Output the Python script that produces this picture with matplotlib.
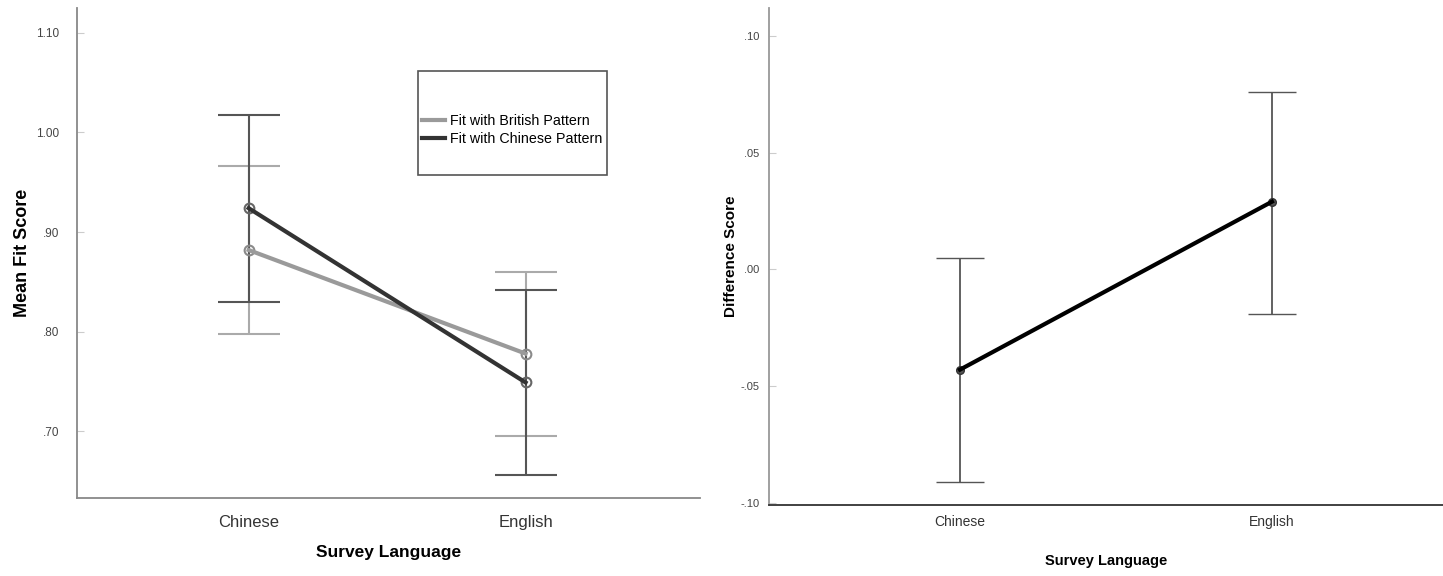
import matplotlib.pyplot as plt
import numpy as np
from matplotlib.patches import Rectangle

plt.rcParams['font.family'] = ['Liberation Sans', 'DejaVu Sans']

# survey language groups
languages = ["Chinese", "English"]

# left panel: mean fit score with 95% CI
british_mean = [0.882, 0.778]
british_low = [0.798, 0.695]
british_high = [0.966, 0.860]
chinese_mean = [0.924, 0.749]
chinese_low = [0.830, 0.656]
chinese_high = [1.018, 0.842]
left_ticks = [0.70, 0.80, 0.90, 1.00, 1.10]
left_ticklabels = [".70", ".80", ".90", "1.00", "1.10"]

# right panel: difference score with 95% CI
diff_mean = [-0.043, 0.029]
diff_low = [-0.091, -0.019]
diff_high = [0.005, 0.076]
right_ticks = [-0.10, -0.05, 0.00, 0.05, 0.10]
right_ticklabels = ["-.10", "-.05", ".00", ".05", ".10"]

W, H = 1443, 576
fig = plt.figure(figsize=(W / 100, H / 100), dpi=100)

ax1 = fig.add_axes([77 / W, 1 - 498 / H, (700 - 77) / W, (498 - 8) / H])
ax2 = fig.add_axes([769 / W, 1 - 505 / H, (1443 - 769) / W, (505 - 8) / H])

x = np.arange(len(languages))


def style_axes(ax, axcol, ypad):
    for s in ["top", "right"]:
        ax.spines[s].set_visible(False)
    ax.spines["left"].set_color(axcol)
    ax.spines["bottom"].set_color(axcol)
    ax.spines["left"].set_linewidth(1.3)
    ax.spines["bottom"].set_linewidth(1.3)
    ax.tick_params(axis="y", direction="in", length=5, color="#cccccc",
                   colors="#444444", pad=ypad)
    ax.tick_params(axis="x", length=0, colors="#333333")


# ---- left panel
gray = "#9a9a9a"
dark = "#333333"
ax1.plot(x, british_mean, color=gray, lw=3, label="Fit with British Pattern", zorder=3)
ax1.plot(x, chinese_mean, color=dark, lw=3, label="Fit with Chinese Pattern", zorder=4)
ax1.errorbar(x, british_mean,
             yerr=[np.subtract(british_mean, british_low), np.subtract(british_high, british_mean)],
             fmt="o", mfc="none", mec="#8a8a8a", ms=7, mew=1.5,
             ecolor="#aaaaaa", elinewidth=1.5, capsize=22, capthick=1.8, zorder=2)
ax1.errorbar(x, chinese_mean,
             yerr=[np.subtract(chinese_mean, chinese_low), np.subtract(chinese_high, chinese_mean)],
             fmt="o", mfc="none", mec="#666666", ms=7, mew=1.5,
             ecolor="#555555", elinewidth=1.5, capsize=22, capthick=2, zorder=2)
ax1.set_xlim(-0.62, 1.63)
ax1.set_ylim(0.633, 1.125)
ax1.set_yticks(left_ticks)
ax1.set_yticklabels(left_ticklabels, fontsize=8.5)
ax1.set_xticks(x)
ax1.set_xticklabels(languages, fontsize=12)
ax1.tick_params(axis="x", pad=12)
ax1.set_ylabel("Mean Fit Score", fontsize=13, fontweight="bold")
ax1.yaxis.set_label_coords(-0.074, 0.5)
ax1.set_xlabel("Survey Language", fontsize=12.5, fontweight="bold", labelpad=11)
style_axes(ax1, "#888888", 13)

# legend box drawn separately so the frame matches the tall SPSS box
ax1.add_patch(Rectangle((0.5474, 0.659), 0.3034, 0.212, transform=ax1.transAxes,
                        fill=False, edgecolor="#555555", lw=1.2, zorder=5))
ax1.legend(loc="upper left", bbox_to_anchor=(0.5538, 0.784), fontsize=10.3,
           frameon=False, handlelength=1.6, handletextpad=0.35,
           borderpad=0, labelspacing=0.3, borderaxespad=0)

# ---- right panel
ax2.plot(x, diff_mean, color="black", lw=3, zorder=3)
ax2.errorbar(x, diff_mean,
             yerr=[np.subtract(diff_mean, diff_low), np.subtract(diff_high, diff_mean)],
             fmt="o", mfc="#555555", mec="#333333", ms=5.5, mew=1,
             ecolor="#555555", elinewidth=1.3, capsize=17, capthick=1.5, zorder=2)
ax2.set_xlim(-0.612, 1.548)
ax2.set_ylim(-0.101, 0.112)
ax2.set_yticks(right_ticks)
ax2.set_yticklabels(right_ticklabels, fontsize=8)
ax2.set_xticks(x)
ax2.set_xticklabels(languages, fontsize=10)
ax2.tick_params(axis="x", pad=7)
ax2.set_ylabel("Difference Score", fontsize=11, fontweight="bold")
ax2.yaxis.set_label_coords(-0.046, 0.5)
ax2.set_xlabel("Survey Language", fontsize=10.5, fontweight="bold", labelpad=18)
style_axes(ax2, "#999999", 7)
ax2.spines["bottom"].set_color("#333333")

fig.savefig("out.png", dpi=100)
